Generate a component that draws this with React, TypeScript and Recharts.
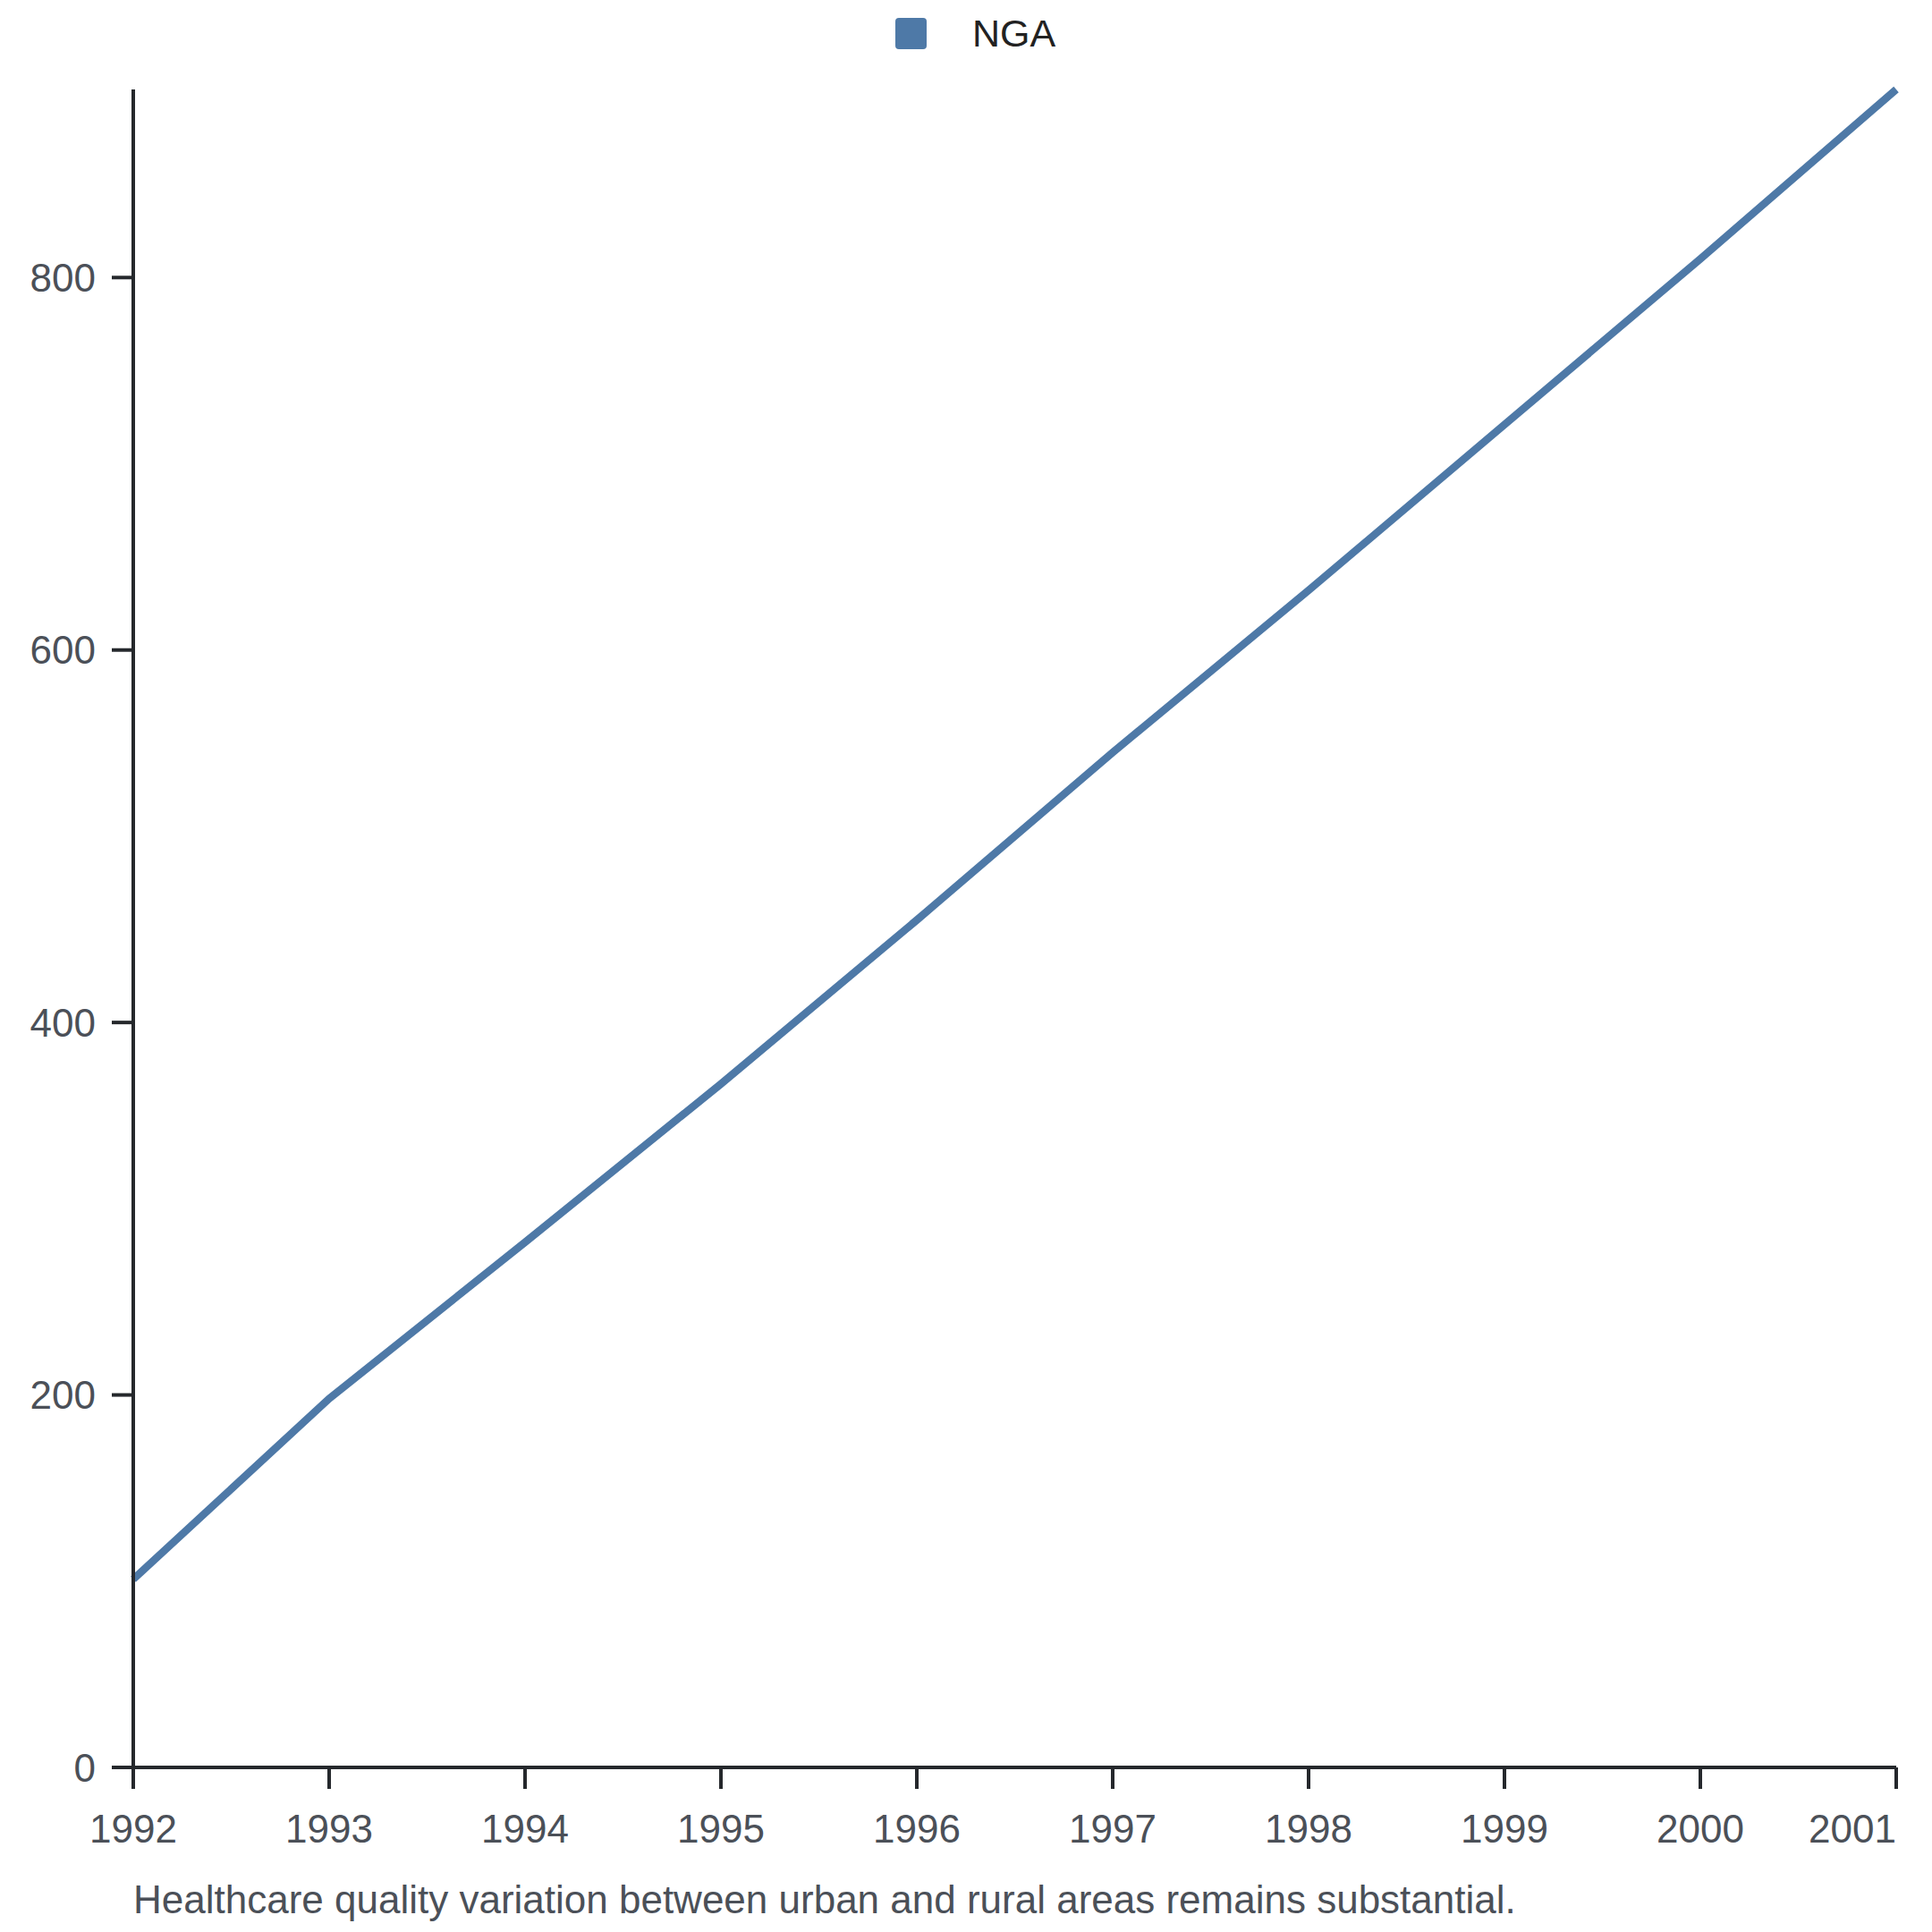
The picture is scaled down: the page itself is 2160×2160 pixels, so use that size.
import { LineChart, Line, XAxis, YAxis, Legend } from "recharts";

const years = ["1992", "1993", "1994", "1995", "1996", "1997", "1998", "1999", "2000", "2001"];
const ngaValues = [101, 198, 282, 367, 455, 545, 632, 721, 810, 901];
const yTicks = [0, 200, 400, 600, 800];

const seriesName = "NGA";
const caption = "Healthcare quality variation between urban and rural areas remains substantial.";

const data = years.map((year, i) => ({ year, NGA: ngaValues[i] }));

const FONT = '"Liberation Sans", Arial, Helvetica, sans-serif';
const BLUE = "#4e79a7";
const AXIS = "#25282c";
const TICK_TEXT = "#4b5058";

// last year label sits flush with the end of the axis, the rest are centered
function YearTick(props: any) {
  const { x, y, payload, index } = props;
  const last = index === years.length - 1;
  return (
    <text
      x={x}
      y={y}
      dy="0.71em"
      textAnchor={last ? "end" : "middle"}
      fill={TICK_TEXT}
      fontSize={44}
      fontFamily={FONT}
    >
      {payload.value}
    </text>
  );
}

function LegendBox() {
  return (
    <div style={{ height: 55, position: "relative" }}>
      <div
        style={{
          position: "absolute",
          left: 1001,
          top: 20,
          display: "flex",
          alignItems: "center",
          height: 35,
        }}
      >
        <div style={{ width: 35, height: 35, borderRadius: 4, background: BLUE, marginRight: 51 }} />
        <span style={{ fontFamily: FONT, fontSize: 43, color: "#222", lineHeight: "35px" }}>{seriesName}</span>
      </div>
    </div>
  );
}

export default function App() {
  return (
    <div style={{ position: "absolute", left: 0, top: 0, width: 2160, height: 2160, background: "#fff" }}>
      <LineChart width={2160} height={2160} data={data} margin={{ top: 45, right: 40, bottom: 0, left: 0 }}>
        <Legend
          verticalAlign="top"
          content={() => <LegendBox />}
          wrapperStyle={{ top: 0, left: 0, width: 2160 }}
        />
        <XAxis
          dataKey="year"
          height={184}
          axisLine={{ stroke: AXIS, strokeWidth: 4 }}
          tickLine={{ stroke: AXIS, strokeWidth: 4 }}
          tickSize={24}
          tickMargin={29}
          interval={0}
          tick={<YearTick />}
        />
        <YAxis
          width={149}
          domain={[0, "dataMax"]}
          ticks={yTicks}
          axisLine={{ stroke: AXIS, strokeWidth: 4 }}
          tickLine={{ stroke: AXIS, strokeWidth: 4 }}
          tickSize={24}
          tickMargin={18}
          tick={{ fill: TICK_TEXT, fontSize: 44, fontFamily: FONT }}
        />
        <Line
          type="linear"
          dataKey="NGA"
          name={seriesName}
          stroke={BLUE}
          strokeWidth={8.5}
          dot={false}
          activeDot={false}
          isAnimationActive={false}
        />
      </LineChart>
      <svg width={2160} height={2160} style={{ position: "absolute", left: 0, top: 0, pointerEvents: "none" }}>
        <text x={149} y={2139} fill={TICK_TEXT} fontSize={44} fontFamily={FONT}>
          {caption}
        </text>
      </svg>
    </div>
  );
}
